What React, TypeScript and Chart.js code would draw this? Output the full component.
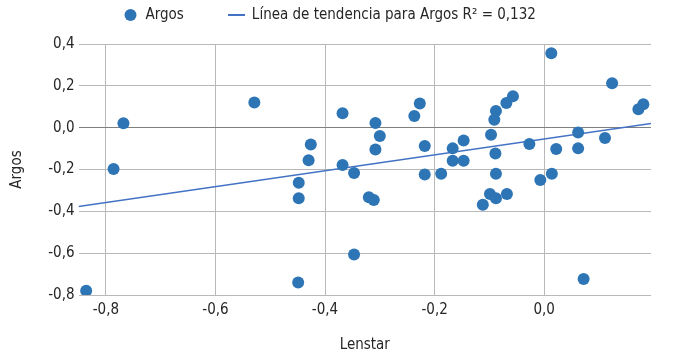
import { useEffect, useRef } from "react";
import { Chart, registerables } from "chart.js";

Chart.register(...registerables);

const seriesLabel = "Argos";
const trendLabel = "Línea de tendencia para Argos R² = 0,132";
const xTitle = "Lenstar";
const yTitle = "Argos";

const lenstarValues = [
  -0.836, -0.786, -0.768, -0.529, -0.426, -0.43, -0.448, -0.448, -0.449, -0.368,
  -0.368, -0.347, -0.347, -0.308, -0.3, -0.308, -0.32, -0.311, -0.237, -0.227,
  -0.218, -0.218, -0.188, -0.167, -0.167, -0.147, -0.147, -0.112, -0.097, -0.089,
  -0.091, -0.088, -0.069, -0.057, -0.088, -0.099, -0.088, -0.068, -0.027, -0.007,
  0.014, 0.013, 0.022, 0.062, 0.062, 0.072, 0.111, 0.124, 0.172, 0.181,
];
const argosValues = [
  -0.78, -0.198, 0.021, 0.12, -0.081, -0.156, -0.263, -0.338, -0.74, 0.069,
  -0.179, -0.217, -0.606, 0.022, -0.04, -0.104, -0.333, -0.346, 0.056, 0.116,
  -0.088, -0.224, -0.22, -0.099, -0.158, -0.061, -0.158, -0.368, -0.034, -0.123,
  0.038, 0.08, 0.118, 0.15, -0.22, -0.317, -0.338, -0.317, -0.078, -0.25,
  -0.22, 0.356, -0.102, -0.023, -0.099, -0.724, -0.049, 0.212, 0.088, 0.112,
];
const trendX = [-0.85, 0.195];
const trendY = [-0.377, 0.02];

const xTickValues = [-0.8, -0.6, -0.4, -0.2, 0.0];
const yTickValues = [-0.8, -0.6, -0.4, -0.2, 0.0, 0.2, 0.4];

const FONT = "'Liberation Sans Narrow', 'DejaVu Sans Condensed', 'Roboto Condensed', sans-serif";
const TEXT_COLOR = "#262626";
const POINT_COLOR = "#2E75B6";
const TREND_COLOR = "#4472C4";
const GRID_COLOR = "#b8b8b8";
const ZERO_COLOR = "#7f7f7f";

const PLOT_TOP = 44;
const LEGEND_X = 123;
const LEGEND_CY = 15;
const LEGEND_LINE_LEN = 17;

const fmt = (v: number) => {
  const r = Math.round(v * 10) / 10;
  return (r === 0 ? 0 : r).toFixed(1).replace(".", ",");
};

const legendPlacement = {
  id: "legendPlacement",
  beforeLayout(chart: any) {
    const lg = chart.legend;
    if (lg && !lg.__patched) {
      const orig = lg.fit;
      lg.fit = function () {
        orig.call(this);
        this.height = PLOT_TOP;
      };
      lg.__patched = true;
    }
  },
  afterLayout(chart: any) {
    const lg = chart.legend;
    if (!lg) return;
    const pad = lg.options.labels.padding;
    const fs = lg.options.labels.font.size;
    lg.left = LEGEND_X - pad;
    lg.right = chart.width;
    lg.top = LEGEND_CY - fs / 2 - pad;
    lg.bottom = PLOT_TOP;
    lg.width = lg.right - lg.left;
    lg.height = lg.bottom - lg.top;
  },
};

export default function App() {
  const ref = useRef<HTMLCanvasElement | null>(null);

  useEffect(() => {
    document.body.style.margin = "0";
    const canvas = ref.current;
    if (!canvas) return;
    const scatterData = lenstarValues.map((x, i) => ({ x, y: argosValues[i] }));
    const trendData = trendX.map((x, i) => ({ x, y: trendY[i] }));

    const lineMarker = document.createElement("canvas");
    lineMarker.width = LEGEND_LINE_LEN;
    lineMarker.height = 2;
    const lctx = lineMarker.getContext("2d");
    if (lctx) {
      lctx.fillStyle = TREND_COLOR;
      lctx.fillRect(0, 0, LEGEND_LINE_LEN, 2);
    }

    const chart = new Chart(canvas, {
      type: "scatter",
      data: {
        datasets: [
          {
            label: seriesLabel,
            data: scatterData,
            backgroundColor: POINT_COLOR,
            borderColor: POINT_COLOR,
            pointRadius: 6,
            pointHoverRadius: 6,
            borderWidth: 0,
            pointStyle: "circle",
          },
          {
            type: "line",
            label: trendLabel,
            data: trendData,
            borderColor: TREND_COLOR,
            backgroundColor: TREND_COLOR,
            borderWidth: 1.5,
            pointRadius: 0,
            pointHoverRadius: 0,
            pointStyle: "line",
            fill: false,
            tension: 0,
          } as any,
        ],
      },
      options: {
        animation: false,
        responsive: false,
        devicePixelRatio: 1,
        layout: { padding: { left: 0, right: 49, top: 0, bottom: 0 } },
        plugins: {
          tooltip: { enabled: false },
          legend: {
            display: true,
            position: "top",
            align: "start",
            labels: {
              usePointStyle: true,
              boxWidth: 16,
              boxHeight: 8.5,
              padding: 45.5,
              color: TEXT_COLOR,
              font: { family: FONT, size: 15 },
              generateLabels: (c: any) => {
                const items = (Chart.defaults as any).plugins.legend.labels.generateLabels(c);
                if (items[1]) items[1].pointStyle = lineMarker;
                return items;
              },
            },
          },
        },
        scales: {
          x: {
            type: "linear",
            min: -0.85,
            max: 0.195,
            afterBuildTicks: (scale: any) => {
              scale.ticks = xTickValues.map((value) => ({ value }));
            },
            afterFit: (scale: any) => {
              scale.height = 61;
            },
            border: { display: false },
            grid: { color: GRID_COLOR, drawTicks: false, lineWidth: 1 },
            ticks: {
              padding: 6,
              color: TEXT_COLOR,
              font: { family: FONT, size: 15 },
              callback: (v: any) => fmt(Number(v)),
              maxRotation: 0,
              autoSkip: false,
            },
            title: {
              display: true,
              text: xTitle,
              color: TEXT_COLOR,
              font: { family: FONT, size: 15 },
              padding: { top: 0, bottom: 2 },
            },
          },
          y: {
            type: "linear",
            min: -0.8,
            max: 0.4,
            afterBuildTicks: (scale: any) => {
              scale.ticks = yTickValues.map((value) => ({ value }));
            },
            afterFit: (scale: any) => {
              scale.width = 78.5;
            },
            border: { display: false },
            grid: {
              drawTicks: false,
              lineWidth: 1,
              color: (ctx: any) =>
                ctx.tick && Math.abs(ctx.tick.value) < 1e-9 ? ZERO_COLOR : GRID_COLOR,
            },
            ticks: {
              padding: 4,
              color: TEXT_COLOR,
              font: { family: FONT, size: 15 },
              callback: (v: any) => fmt(Number(v)),
              autoSkip: false,
            },
            title: {
              display: true,
              text: yTitle,
              color: TEXT_COLOR,
              font: { family: FONT, size: 15 },
              padding: { top: 8, bottom: 0 },
            },
          },
        },
      },
      plugins: [legendPlacement],
    });

    return () => chart.destroy();
  }, []);

  return (
    <div style={{ width: 700, height: 356, position: "relative" }}>
      <canvas ref={ref} width={700} height={356} style={{ display: "block" }} />
    </div>
  );
}
